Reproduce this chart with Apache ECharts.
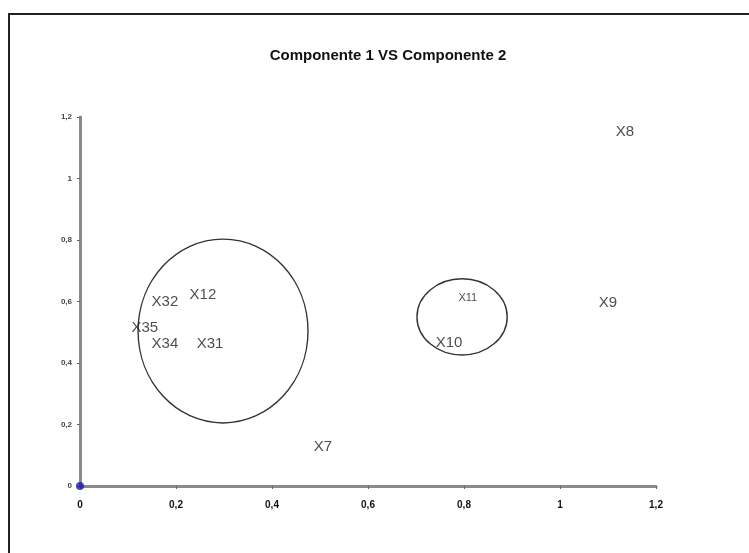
<!DOCTYPE html>
<html><head><meta charset="utf-8">
<script src="https://cdn.jsdelivr.net/npm/echarts@6/dist/echarts.min.js"></script>
<style>html,body{margin:0;padding:0;background:#fff}#c{width:749px;height:553px}</style>
</head><body><div id="c"></div>
<script>
const pointNames = ['X8','X9','X11','X10','X7','X32','X12','X35','X34','X31'];
const xValues = [1.135,1.10,0.808,0.769,0.506,0.177,0.256,0.135,0.177,0.271];
const yValues = [1.151,0.595,0.611,0.465,0.127,0.598,0.621,0.514,0.462,0.462];
const labelSizes = [15,15,11,15,15,15,15,15,15,15];
const originPoint = [0,0];
// ellipses: centre x, centre y, radius x, radius y (data units)
const ellipseCx = [0.298,0.796];
const ellipseCy = [0.504,0.550];
const ellipseRx = [0.177,0.094];
const ellipseRy = [0.299,0.124];

const FONT = '"Liberation Sans", Arial, sans-serif';
const fmt = v => String(+v.toFixed(1)).replace('.', ',');

const chart = echarts.init(document.getElementById('c'));
chart.setOption({
  animation:false,
  backgroundColor:'#fff',
  title:{text:'Componente 1 VS Componente 2',left:383,textAlign:'center',top:43,
    textStyle:{fontFamily:FONT,fontSize:15,fontWeight:'bold',color:'#111'}},
  graphic:[{type:'polyline',shape:{points:[[9,553],[9,14],[749,14]]},
    style:{stroke:'#222',lineWidth:2,fill:null},silent:true}],
  grid:{left:80,right:93,top:117,bottom:67,containLabel:false},
  xAxis:{type:'value',min:0,max:1.2,interval:0.2,splitLine:{show:false},
    axisLine:{lineStyle:{color:'#8a8a8a',width:3}},
    axisTick:{show:true,length:3,lineStyle:{color:'#666'}},
    axisLabel:{formatter:fmt,margin:14,fontFamily:FONT,fontSize:10,fontWeight:'bold',color:'#111'}},
  yAxis:{type:'value',min:0,max:1.2,interval:0.2,splitLine:{show:false},
    axisLine:{show:true,lineStyle:{color:'#8a8a8a',width:3}},
    axisTick:{show:true,length:3,lineStyle:{color:'#666'}},
    axisLabel:{formatter:fmt,margin:8,fontFamily:FONT,fontSize:8,fontWeight:'bold',color:'#444'}},
  series:[
    {type:'custom',coordinateSystem:'cartesian2d',silent:true,z:1,
     data:ellipseCx.map((cx,i)=>[cx,ellipseCy[i],ellipseRx[i],ellipseRy[i]]),
     renderItem:(params,api)=>{
       const c = api.coord([api.value(0),api.value(1)]);
       const s = api.size([api.value(2),api.value(3)]);
       return {type:'ellipse',shape:{cx:c[0],cy:c[1],rx:s[0],ry:s[1]},
         style:{fill:null,stroke:'#333',lineWidth:1.4}};
     }},
    {type:'scatter',symbolSize:0,z:3,
     data:pointNames.map((n,i)=>({name:n,value:[xValues[i],yValues[i]],
       label:{fontSize:labelSizes[i]}})),
     label:{show:true,position:'inside',formatter:p=>p.name,
       fontFamily:FONT,color:'#222'}},
    {type:'scatter',symbol:'circle',symbolSize:8,z:4,
     itemStyle:{color:'#1a1aa8'},data:[originPoint]}
  ]
});
</script></body></html>
